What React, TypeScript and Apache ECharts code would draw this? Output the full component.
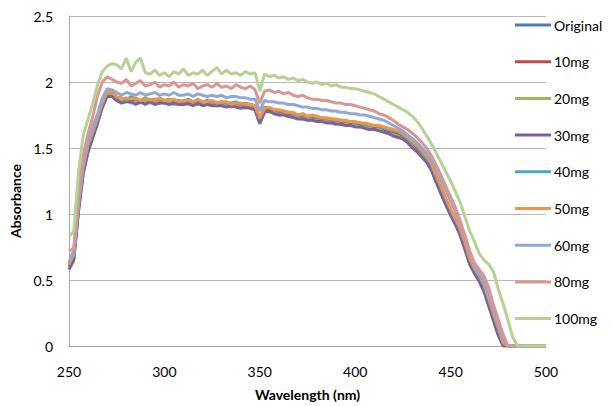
import React, { useEffect, useRef } from "react";
import * as echarts from "echarts";

const WAVELENGTH = [
  250, 252.5, 255, 257.5, 260, 262.5, 265, 267.5, 270, 272.5,
  275, 277.5, 280, 282.5, 285, 287.5, 290, 292.5, 295, 297.5,
  300, 302.5, 305, 307.5, 310, 312.5, 315, 317.5, 320, 322.5,
  325, 327.5, 330, 332.5, 335, 337.5, 340, 342.5, 345, 347.5,
  350, 352.5, 355, 357.5, 360, 362.5, 365, 367.5, 370, 372.5,
  375, 377.5, 380, 382.5, 385, 387.5, 390, 392.5, 395, 397.5,
  400, 402.5, 405, 407.5, 410, 412.5, 415, 417.5, 420, 422.5,
  425, 427.5, 430, 432.5, 435, 437.5, 440, 442.5, 445, 447.5,
  450, 452.5, 455, 457.5, 460, 462.5, 465, 467.5, 470, 472.5,
  475, 477.5, 480, 482.5, 485, 487.5, 490, 492.5, 495, 497.5,
  500,
];

const ORIGINAL = [
  0.60, 0.67, 1.05, 1.33, 1.50, 1.60, 1.71, 1.82, 1.90, 1.91,
  1.87, 1.86, 1.85, 1.87, 1.85, 1.86, 1.84, 1.86, 1.85, 1.84,
  1.86, 1.84, 1.85, 1.85, 1.83, 1.85, 1.84, 1.85, 1.83, 1.84,
  1.84, 1.82, 1.84, 1.83, 1.82, 1.83, 1.82, 1.81, 1.82, 1.80,
  1.69, 1.79, 1.78, 1.78, 1.76, 1.77, 1.75, 1.75, 1.73, 1.74,
  1.72, 1.73, 1.72, 1.71, 1.71, 1.70, 1.70, 1.69, 1.69, 1.68,
  1.68, 1.67, 1.67, 1.66, 1.65, 1.65, 1.63, 1.62, 1.61, 1.60,
  1.58, 1.55, 1.52, 1.48, 1.45, 1.41, 1.34, 1.25, 1.17, 1.08,
  1.01, 0.94, 0.85, 0.75, 0.63, 0.56, 0.51, 0.43, 0.32, 0.21,
  0.10, 0, 0, 0, 0, 0, 0, 0, 0, 0,
  0,
];

const MG10 = [
  0.62, 0.68, 1.06, 1.35, 1.50, 1.61, 1.71, 1.83, 1.92, 1.91,
  1.88, 1.86, 1.87, 1.86, 1.86, 1.85, 1.86, 1.85, 1.86, 1.85,
  1.85, 1.86, 1.84, 1.86, 1.84, 1.84, 1.85, 1.84, 1.84, 1.85,
  1.83, 1.83, 1.84, 1.82, 1.83, 1.83, 1.81, 1.82, 1.81, 1.81,
  1.70, 1.79, 1.79, 1.77, 1.77, 1.76, 1.76, 1.74, 1.74, 1.73,
  1.73, 1.72, 1.72, 1.72, 1.70, 1.71, 1.69, 1.70, 1.68, 1.69,
  1.67, 1.68, 1.66, 1.66, 1.65, 1.64, 1.64, 1.62, 1.61, 1.60,
  1.59, 1.56, 1.53, 1.49, 1.46, 1.42, 1.35, 1.27, 1.18, 1.10,
  1.02, 0.95, 0.87, 0.77, 0.65, 0.57, 0.52, 0.45, 0.34, 0.23,
  0.12, 0.01, 0, 0, 0, 0, 0, 0, 0, 0,
  0,
];

const MG20 = [
  0.61, 0.66, 1.03, 1.32, 1.48, 1.59, 1.69, 1.81, 1.90, 1.90,
  1.86, 1.85, 1.86, 1.84, 1.85, 1.84, 1.85, 1.84, 1.84, 1.85,
  1.84, 1.85, 1.83, 1.84, 1.84, 1.83, 1.84, 1.83, 1.84, 1.83,
  1.83, 1.82, 1.83, 1.82, 1.81, 1.82, 1.81, 1.80, 1.81, 1.79,
  1.68, 1.78, 1.77, 1.77, 1.75, 1.76, 1.74, 1.74, 1.73, 1.72,
  1.72, 1.71, 1.71, 1.70, 1.70, 1.69, 1.69, 1.68, 1.68, 1.67,
  1.67, 1.66, 1.66, 1.65, 1.64, 1.64, 1.62, 1.61, 1.60, 1.59,
  1.57, 1.54, 1.51, 1.47, 1.44, 1.40, 1.33, 1.24, 1.16, 1.07,
  1.00, 0.93, 0.84, 0.74, 0.62, 0.55, 0.50, 0.42, 0.31, 0.20,
  0.09, 0, 0, 0, 0, 0, 0, 0, 0, 0,
  0,
];

const MG30 = [
  0.58, 0.65, 1.02, 1.31, 1.47, 1.58, 1.69, 1.81, 1.89, 1.89,
  1.86, 1.84, 1.85, 1.85, 1.83, 1.85, 1.83, 1.85, 1.83, 1.84,
  1.84, 1.83, 1.84, 1.83, 1.83, 1.84, 1.82, 1.84, 1.82, 1.83,
  1.82, 1.82, 1.82, 1.81, 1.82, 1.81, 1.80, 1.81, 1.80, 1.79,
  1.69, 1.77, 1.78, 1.76, 1.75, 1.75, 1.74, 1.73, 1.72, 1.72,
  1.71, 1.71, 1.70, 1.70, 1.69, 1.69, 1.68, 1.68, 1.67, 1.67,
  1.66, 1.66, 1.65, 1.64, 1.64, 1.63, 1.62, 1.61, 1.59, 1.58,
  1.57, 1.54, 1.50, 1.47, 1.43, 1.39, 1.33, 1.24, 1.15, 1.07,
  0.99, 0.92, 0.84, 0.73, 0.62, 0.55, 0.49, 0.41, 0.30, 0.19,
  0.08, 0, 0, 0, 0, 0, 0, 0, 0, 0,
  0,
];

const MG40 = [
  0.63, 0.69, 1.07, 1.36, 1.52, 1.62, 1.72, 1.84, 1.92, 1.93,
  1.88, 1.88, 1.86, 1.89, 1.87, 1.86, 1.88, 1.86, 1.87, 1.87,
  1.86, 1.87, 1.86, 1.86, 1.85, 1.87, 1.85, 1.86, 1.85, 1.86,
  1.85, 1.84, 1.85, 1.84, 1.84, 1.85, 1.83, 1.84, 1.83, 1.82,
  1.72, 1.81, 1.80, 1.79, 1.78, 1.78, 1.77, 1.76, 1.75, 1.75,
  1.74, 1.74, 1.73, 1.73, 1.72, 1.72, 1.71, 1.71, 1.70, 1.70,
  1.69, 1.69, 1.68, 1.67, 1.67, 1.66, 1.65, 1.64, 1.63, 1.62,
  1.60, 1.57, 1.54, 1.51, 1.47, 1.43, 1.37, 1.28, 1.20, 1.11,
  1.03, 0.96, 0.88, 0.78, 0.66, 0.58, 0.53, 0.46, 0.35, 0.24,
  0.13, 0.02, 0, 0, 0, 0, 0, 0, 0, 0,
  0,
];

const MG50 = [
  0.62, 0.70, 1.08, 1.37, 1.53, 1.63, 1.73, 1.85, 1.93, 1.92,
  1.89, 1.87, 1.88, 1.87, 1.88, 1.86, 1.87, 1.87, 1.86, 1.88,
  1.86, 1.86, 1.87, 1.85, 1.86, 1.86, 1.85, 1.87, 1.85, 1.85,
  1.86, 1.84, 1.85, 1.85, 1.83, 1.84, 1.84, 1.83, 1.83, 1.82,
  1.73, 1.80, 1.81, 1.79, 1.79, 1.78, 1.77, 1.77, 1.75, 1.76,
  1.74, 1.75, 1.74, 1.73, 1.73, 1.72, 1.72, 1.71, 1.71, 1.70,
  1.70, 1.69, 1.69, 1.68, 1.67, 1.67, 1.66, 1.65, 1.64, 1.63,
  1.61, 1.58, 1.55, 1.52, 1.48, 1.44, 1.38, 1.29, 1.21, 1.12,
  1.04, 0.97, 0.89, 0.79, 0.67, 0.59, 0.54, 0.47, 0.36, 0.25,
  0.14, 0.03, 0, 0, 0, 0, 0, 0, 0, 0,
  0,
];

const MG60 = [
  0.64, 0.72, 1.12, 1.40, 1.56, 1.66, 1.76, 1.88, 1.95, 1.94,
  1.92, 1.90, 1.92, 1.91, 1.90, 1.92, 1.90, 1.91, 1.92, 1.90,
  1.91, 1.90, 1.92, 1.90, 1.90, 1.91, 1.89, 1.91, 1.90, 1.89,
  1.90, 1.89, 1.90, 1.88, 1.89, 1.89, 1.88, 1.88, 1.87, 1.87,
  1.78, 1.86, 1.85, 1.85, 1.84, 1.84, 1.83, 1.83, 1.82, 1.81,
  1.81, 1.80, 1.80, 1.79, 1.79, 1.78, 1.78, 1.77, 1.77, 1.76,
  1.76, 1.75, 1.75, 1.74, 1.73, 1.72, 1.71, 1.69, 1.67, 1.65,
  1.63, 1.60, 1.57, 1.54, 1.50, 1.46, 1.41, 1.34, 1.26, 1.18,
  1.10, 1.02, 0.93, 0.83, 0.71, 0.61, 0.55, 0.49, 0.39, 0.28,
  0.17, 0.06, 0, 0, 0, 0, 0, 0, 0, 0,
  0,
];

const MG80 = [
  0.72, 0.74, 1.18, 1.45, 1.61, 1.74, 1.90, 2.00, 2.04, 2.02,
  2.00, 1.99, 2.02, 1.97, 1.99, 2.01, 1.97, 1.98, 2.00, 1.96,
  1.98, 1.97, 2.00, 1.96, 1.98, 1.97, 1.99, 1.95, 1.97, 1.98,
  1.96, 1.99, 1.96, 1.97, 1.95, 1.98, 1.96, 1.95, 1.97, 1.94,
  1.84, 1.93, 1.94, 1.92, 1.93, 1.91, 1.92, 1.90, 1.89, 1.90,
  1.88, 1.87, 1.87, 1.86, 1.86, 1.85, 1.84, 1.84, 1.83, 1.83,
  1.82, 1.81, 1.80, 1.79, 1.78, 1.76, 1.75, 1.73, 1.71, 1.68,
  1.66, 1.64, 1.61, 1.58, 1.54, 1.50, 1.44, 1.37, 1.29, 1.21,
  1.13, 1.05, 0.95, 0.84, 0.72, 0.63, 0.58, 0.53, 0.44, 0.31,
  0.20, 0.09, 0, 0, 0, 0, 0, 0, 0, 0,
  0,
];

const MG100 = [
  0.83, 0.87, 1.32, 1.60, 1.72, 1.84, 1.98, 2.08, 2.12, 2.14,
  2.13, 2.10, 2.18, 2.08, 2.15, 2.18, 2.07, 2.06, 2.09, 2.05,
  2.07, 2.04, 2.08, 2.06, 2.10, 2.05, 2.07, 2.06, 2.09, 2.05,
  2.08, 2.11, 2.06, 2.09, 2.06, 2.07, 2.05, 2.08, 2.06, 2.07,
  1.93, 2.06, 2.04, 2.05, 2.03, 2.04, 2.02, 2.03, 2.01, 2.02,
  2.00, 1.99, 2.00, 1.98, 1.99, 1.97, 1.98, 1.96, 1.96, 1.95,
  1.95, 1.94, 1.93, 1.92, 1.91, 1.89, 1.87, 1.85, 1.83, 1.81,
  1.79, 1.77, 1.74, 1.70, 1.65, 1.59, 1.53, 1.46, 1.39, 1.32,
  1.25, 1.17, 1.09, 0.98, 0.87, 0.79, 0.70, 0.65, 0.62, 0.56,
  0.43, 0.32, 0.20, 0.07, 0, 0, 0, 0, 0, 0,
  0,
];

const SERIES_NAMES = ["Original", "10mg", "20mg", "30mg", "40mg", "50mg", "60mg", "80mg", "100mg"];
const SERIES_VALUES = [ORIGINAL, MG10, MG20, MG30, MG40, MG50, MG60, MG80, MG100];
const SERIES_COLORS = [
  "#4A7EBB", "#BE4B48", "#98B954", "#7D60A0", "#46AAC5",
  "#F69240", "#8FA9D7", "#D99694", "#B7D093",
];

const FONT = "Lato, 'Open Sans', sans-serif";

export default function App() {
  const ref = useRef<HTMLDivElement>(null);

  useEffect(() => {
    if (!ref.current) return;
    const chart = echarts.init(ref.current, null, { renderer: "svg" });
    const option: any = {
      animation: false,
      backgroundColor: "#ffffff",
      textStyle: { fontFamily: FONT },
      grid: { left: 69, top: 16, right: 66, bottom: 58, containLabel: false },
      legend: {
        orient: "vertical",
        left: 515,
        top: 17,
        padding: 0,
        icon: "rect",
        itemWidth: 36,
        itemHeight: 3,
        itemGap: 20.7,
        textStyle: {
          fontSize: 14,
          color: "#000",
          lineHeight: 16,
          fontFamily: FONT,
          padding: [0, 0, 0, -2],
          overflow: "none",
          width: 70,
        },
        data: SERIES_NAMES,
      },
      xAxis: {
        type: "value",
        min: 250,
        max: 500,
        interval: 50,
        name: "Wavelength (nm)",
        nameLocation: "middle",
        nameGap: 41,
        nameTextStyle: { fontSize: 14, fontWeight: "bold", color: "#000", fontFamily: FONT },
        axisLine: { show: true, lineStyle: { color: "#A6A6A6", width: 1 } },
        axisTick: { show: false },
        axisLabel: { fontSize: 14, color: "#000", margin: 18, fontFamily: FONT },
        splitLine: { show: false },
      },
      yAxis: {
        type: "value",
        min: 0,
        max: 2.5,
        interval: 0.5,
        axisLine: { show: true, lineStyle: { color: "#A6A6A6", width: 1 } },
        axisTick: { show: false },
        axisLabel: { fontSize: 14, color: "#000", margin: 16, fontFamily: FONT },
        splitLine: { show: true, lineStyle: { color: "#B8B8B8", width: 1 } },
      },
      graphic: [
        {
          type: "text",
          x: 15,
          y: 201,
          rotation: Math.PI / 2,
          style: {
            text: "Absorbance",
            font: "bold 14px " + FONT,
            fill: "#000",
            textAlign: "center",
            textVerticalAlign: "middle",
          },
        },
      ],
      series: SERIES_NAMES.map((name, s) => ({
        name,
        type: "line",
        data: WAVELENGTH.map((x, i) => [x, SERIES_VALUES[s][i]]),
        showSymbol: false,
        symbol: "none",
        lineStyle: { width: 3, color: SERIES_COLORS[s] },
        itemStyle: { color: SERIES_COLORS[s] },
        emphasis: { disabled: true },
      })),
    };
    chart.setOption(option);
    return () => chart.dispose();
  }, []);

  return (
    <div
      ref={ref}
      style={{ position: "fixed", left: 0, top: 0, width: 612, height: 406 }}
    />
  );
}
